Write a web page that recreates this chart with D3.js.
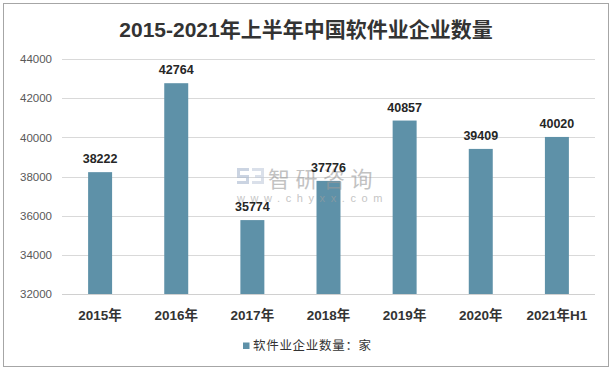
<!DOCTYPE html>
<html>
<head>
<meta charset="utf-8">
<script src="https://cdn.jsdelivr.net/npm/d3@7"></script>
<style>
  body{margin:0;background:#fff;}
  text{font-family:"Liberation Sans","Noto Sans CJK SC",sans-serif;}
</style>
</head>
<body>
<svg id="chart" width="613" height="371"></svg>
<script>
var categories=["2015年","2016年","2017年","2018年","2019年","2020年","2021年H1"];
var counts=[38222,42764,35774,37776,40857,39409,40020];
var yTicks=[32000,34000,36000,38000,40000,42000,44000];
var title="2015-2021年上半年中国软件业企业数量";
var legendLabel="软件业企业数量：家";

var svg=d3.select("#chart");
var barColor="#5e91a8";
var m={left:62,right:595,top:59,bottom:294};

// outer frame
svg.append("rect")
  .attr("x",3.5).attr("y",3.5).attr("width",605).attr("height",363)
  .attr("fill","#fff").attr("stroke","#a6a6a6").attr("stroke-width",1);

svg.append("text")
  .attr("x",306).attr("y",37)
  .attr("text-anchor","middle")
  .attr("font-size","21px").attr("font-weight","bold").attr("fill","#333")
  .text(title);

var x=d3.scaleBand().domain(categories).range([m.left,m.right]).paddingInner(0.685).paddingOuter(0.343);
var y=d3.scaleLinear().domain([32000,44000]).range([m.bottom,m.top]);

// grid
svg.append("g").selectAll("line").data(yTicks.slice(1)).enter().append("line")
  .attr("x1",m.left).attr("x2",m.right)
  .attr("y1",function(d){return Math.round(y(d))+0.5;})
  .attr("y2",function(d){return Math.round(y(d))+0.5;})
  .attr("stroke","#d9d9d9");

// y axis labels
var yAxis=d3.axisLeft(y).tickValues(yTicks).tickSize(0).tickPadding(10).tickFormat(d3.format("d"));
var ga=svg.append("g").attr("transform","translate("+(m.left)+",0)").call(yAxis);
ga.select(".domain").remove();
ga.selectAll("text").attr("font-size","11.5px").attr("fill","#595959")
  .attr("font-family","'Liberation Sans',sans-serif");

// bars
svg.append("g").selectAll("rect").data(counts).enter().append("rect")
  .attr("x",function(d,i){return x(categories[i]);})
  .attr("width",x.bandwidth())
  .attr("y",function(d){return y(d);})
  .attr("height",function(d){return m.bottom-y(d);})
  .attr("fill",barColor);

// watermark (sits over the bars)
var wm=svg.append("g").attr("opacity",0.6);
wm.append("path").attr("d","M237,168h12v3h-9v4h9v9h-12v-3h9v-3h-9z").attr("fill","#a9b8cf");
wm.append("path").attr("d","M252,168h12v16h-12v-3h9v-3h-6v-3h6v-4h-9z").attr("fill","#c2cddd");
wm.append("text").attr("x",268).attr("y",187).attr("font-size","22px").attr("fill","#9a9a9a")
  .attr("letter-spacing","5.5px")
  .attr("font-family","'Noto Sans CJK SC',sans-serif").text("智研咨询");
wm.append("text").attr("x",237).attr("y",202).attr("font-size","11px").attr("fill","#a0a0a0")
  .attr("letter-spacing","5.6px").text("www.chyxx.com");

// value labels
svg.append("g").selectAll("text").data(counts).enter().append("text")
  .attr("x",function(d,i){return x(categories[i])+x.bandwidth()/2;})
  .attr("y",function(d){return y(d)-9;})
  .attr("text-anchor","middle")
  .attr("font-size","12.5px").attr("font-weight","bold").attr("fill","#262626")
  .text(function(d){return d;});

// baseline
svg.append("line").attr("x1",m.left).attr("x2",m.right)
  .attr("y1",m.bottom+0.5).attr("y2",m.bottom+0.5).attr("stroke","#d0d0d0");

// x labels
svg.append("g").selectAll("text").data(categories).enter().append("text")
  .attr("x",function(d){return x(d)+x.bandwidth()/2;})
  .attr("y",320)
  .attr("text-anchor","middle")
  .attr("font-size","13.5px").attr("font-weight","bold").attr("fill","#333")
  .text(function(d){return d;});

// legend
svg.append("rect").attr("x",243).attr("y",342.5).attr("width",6.5).attr("height",6.5).attr("fill",barColor);
svg.append("text").attr("x",253).attr("y",350)
  .attr("font-size","12.5px").attr("fill","#333").attr("letter-spacing","0.7px")
  .text(legendLabel);
</script>
</body>
</html>
